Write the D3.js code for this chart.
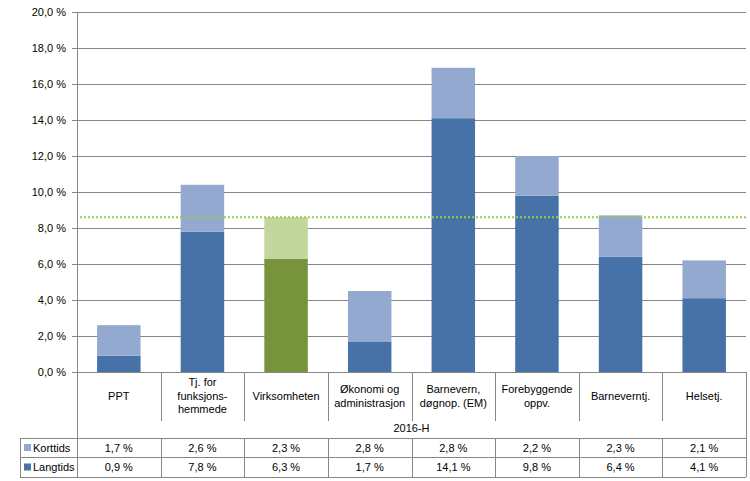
<!DOCTYPE html>
<html><head><meta charset="utf-8">
<script src="https://cdn.jsdelivr.net/npm/d3@7"></script>
<style>
html,body{margin:0;padding:0;background:#fff;}
text{font-family:"Liberation Sans",Arial,sans-serif;fill:#000;}
</style></head><body>
<svg id="c" width="750" height="481"></svg>
<script>
const categories = ["PPT","Tj. for\nfunksjons-\nhemmede","Virksomheten","Økonomi og\nadministrasjon","Barnevern,\ndøgnop. (EM)","Forebyggende\noppv.","Barneverntj.","Helsetj."];
const korttids = [1.7,2.6,2.3,2.8,2.8,2.2,2.3,2.1];
const langtids = [0.9,7.8,6.3,1.7,14.1,9.8,6.4,4.1];
const seriesNames = ["Korttids","Langtids"];
const yTicks = [0,2,4,6,8,10,12,14,16,18,20];
const averageValue = 8.6;
const highlight = "Virksomheten";
const groupLabel = "2016-H";

const svg = d3.select("#c");
const L=77, R=746, T=12, B=372;
const FS = "11px";
const x = d3.scaleBand().domain(categories).range([L,R]).padding(0);
const y = d3.scaleLinear().domain([0,20]).range([B,T]);
const fmt = v => d3.format(".1f")(v).replace(".",",")+" %";
const C = {lang:"#4672A8", kort:"#93A9CF", glang:"#77933C", gkort:"#C3D69B", grid:"#868686", avg:"#92D050"};

// gridlines
svg.append("g").selectAll("line").data(yTicks).join("line")
  .attr("x1",L).attr("x2",R).attr("y1",d=>y(d)+0.5).attr("y2",d=>y(d)+0.5)
  .attr("stroke",C.grid).attr("stroke-width",1);
// y axis tick marks & labels
const ya = svg.append("g");
ya.selectAll("line").data(yTicks).join("line")
  .attr("x1",L-5).attr("x2",L).attr("y1",d=>y(d)+0.5).attr("y2",d=>y(d)+0.5).attr("stroke",C.grid);
ya.selectAll("text").data(yTicks).join("text")
  .attr("x",66).attr("y",d=>y(d)).attr("dy","0.35em").attr("text-anchor","end")
  .style("font-size",FS).text(fmt);

// bars
const bw = x.bandwidth()*0.52;
const bars = svg.append("g");
categories.forEach((c,i)=>{
  const hl = c===highlight;
  const bx = x(c)+(x.bandwidth()-bw)/2;
  bars.append("rect").attr("x",bx).attr("width",bw)
    .attr("y",y(langtids[i])).attr("height",y(0)-y(langtids[i]))
    .attr("fill",hl?C.glang:C.lang);
  bars.append("rect").attr("x",bx).attr("width",bw)
    .attr("y",y(langtids[i]+korttids[i])).attr("height",y(langtids[i])-y(langtids[i]+korttids[i]))
    .attr("fill",hl?C.gkort:C.kort);
});

// average dotted line
svg.append("line").attr("x1",L+3).attr("x2",R).attr("y1",y(averageValue)).attr("y2",y(averageValue))
  .attr("stroke",C.avg).attr("stroke-width",2).attr("stroke-dasharray","2,2");

// axis lines
svg.append("line").attr("x1",L+0.5).attr("x2",L+0.5).attr("y1",T).attr("y2",477).attr("stroke",C.grid);
svg.append("line").attr("x1",L).attr("x2",R).attr("y1",B+0.5).attr("y2",B+0.5).attr("stroke",C.grid);

// category separators & labels
const tb = svg.append("g");
categories.forEach((c,i)=>{
  if(i>0) tb.append("line").attr("x1",Math.round(x(c))+0.5).attr("x2",Math.round(x(c))+0.5).attr("y1",B).attr("y2",421).attr("stroke",C.grid);
  const lines = c.split("\n");
  const cx = x(c)+x.bandwidth()/2;
  const lh = 13.5;
  const y0 = 396 - (lines.length-1)*lh/2;
  lines.forEach((ln,j)=>{
    tb.append("text").attr("x",cx).attr("y",y0+j*lh).attr("dy","0.35em").attr("text-anchor","middle")
      .style("font-size",FS).text(ln);
  });
});
svg.append("line").attr("x1",R+0.5).attr("x2",R+0.5).attr("y1",B).attr("y2",477).attr("stroke",C.grid);
svg.append("text").attr("x",(L+R)/2).attr("y",428).attr("dy","0.35em").attr("text-anchor","middle")
  .style("font-size",FS).text(groupLabel);

// data table
const rowsY = [438,457,477];
rowsY.forEach(ry=>svg.append("line").attr("x1",20).attr("x2",R).attr("y1",ry+0.5).attr("y2",ry+0.5).attr("stroke",C.grid));
svg.append("line").attr("x1",20.5).attr("x2",20.5).attr("y1",438).attr("y2",477).attr("stroke",C.grid);
categories.forEach((c,i)=>{
  if(i>0) svg.append("line").attr("x1",Math.round(x(c))+0.5).attr("x2",Math.round(x(c))+0.5).attr("y1",438).attr("y2",477).attr("stroke",C.grid);
});
const rowData = [korttids,langtids];
const rowColors = [C.kort,C.lang];
rowData.forEach((arr,r)=>{
  const cy = (rowsY[r]+rowsY[r+1])/2+0.5;
  svg.append("rect").attr("x",24).attr("y",cy-4).attr("width",7).attr("height",7).attr("fill",rowColors[r]);
  svg.append("text").attr("x",33).attr("y",cy).attr("dy","0.35em").style("font-size",FS).text(seriesNames[r]);
  arr.forEach((v,i)=>{
    svg.append("text").attr("x",x(categories[i])+x.bandwidth()/2).attr("y",cy).attr("dy","0.35em")
      .attr("text-anchor","middle").style("font-size",FS).text(fmt(v));
  });
});
</script></body></html>
